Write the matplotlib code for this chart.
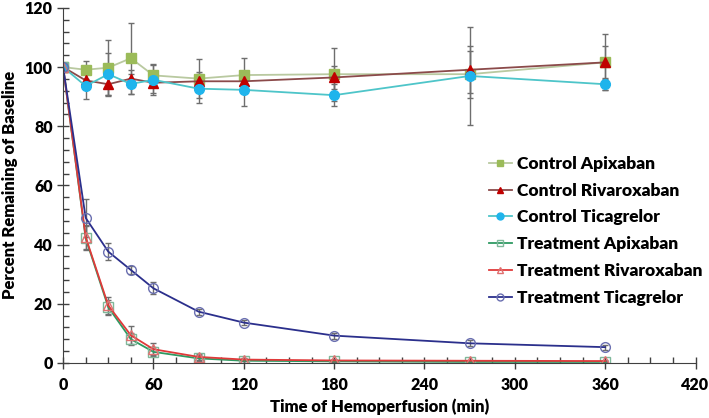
import numpy as np
import matplotlib.pyplot as plt
from matplotlib.ticker import MultipleLocator
from matplotlib.lines import Line2D

plt.rcParams['font.family'] = ['Lato', 'DejaVu Sans']
plt.rcParams['font.weight'] = 'bold'

# Zeitpunkte (min)
t = [0, 15, 30, 45, 60, 90, 120, 180, 270, 360]

# Kontrollen
ctrl_api = [100, 99.1, 99.8, 103.0, 97.2, 96.1, 97.3, 97.6, 97.6, 101.6]
ctrl_api_err = [0, 3.0, 9.5, 12.0, 4.0, 6.7, 5.7, 9.0, 8.0, 9.5]
ctrl_riv = [100, 95.5, 94.2, 96.1, 94.7, 95.2, 95.2, 96.5, 99.1, 101.6]
ctrl_riv_err = [0, 2.5, 3.5, 3.0, 3.5, 3.0, 3.0, 4.0, 8.0, 5.5]
ctrl_tic = [100, 93.6, 97.6, 94.3, 95.7, 92.7, 92.3, 90.5, 97.0, 94.2]
ctrl_tic_err = [0, 4.3, 7.1, 3.5, 5.0, 5.0, 5.5, 3.7, 16.5, 2.0]

# Behandlung
trt_api = [100, 42.1, 18.8, 8.0, 3.7, 1.5, 0.7, 0.5, 0.3, 0.3]
trt_api_err = [0, 4.0, 2.5, 2.0, 1.5, 1.0, 0.6, 0.5, 0.4, 0.4]
trt_riv = [100, 42.5, 19.4, 9.3, 4.6, 2.0, 1.1, 0.8, 0.7, 0.6]
trt_riv_err = [0, 4.0, 3.0, 3.0, 2.0, 1.0, 0.6, 0.5, 0.4, 0.4]
trt_tic = [100, 49.0, 37.6, 31.4, 25.2, 17.3, 13.6, 9.2, 6.6, 5.3]
trt_tic_err = [0, 6.5, 3.0, 1.5, 2.0, 1.0, 0.8, 1.0, 1.0, 0.8]

labels = ["Control Apixaban", "Control Rivaroxaban", "Control Ticagrelor",
          "Treatment Apixaban", "Treatment Rivaroxaban", "Treatment Ticagrelor"]

fig = plt.figure(figsize=(7.09, 4.18), dpi=100)
ax = fig.add_axes([0.089, 0.132, 0.892, 0.849])

ekw = dict(ecolor="#6E6E6E", elinewidth=1.0, capsize=2.5, capthick=1.0)

# Stil je Serie: Linie, Marker, Füllung, Rand
styles = [
    ("#B9C9A0", "s", "#9BBB59", "#9BBB59"),
    ("#8B4A4A", "^", "#C00000", "#C00000"),
    ("#4EC5C9", "o", "#1FB4EC", "#1FB4EC"),
    ("#2E9A62", "s", "none", "#7FB89A"),
    ("#E03A3A", "^", "none", "#E07070"),
    ("#2B2F8C", "o", "none", "#6A6FB0"),
]
series = [(ctrl_api, ctrl_api_err), (ctrl_riv, ctrl_riv_err), (ctrl_tic, ctrl_tic_err),
          (trt_api, trt_api_err), (trt_riv, trt_riv_err), (trt_tic, trt_tic_err)]

handles = []
for (y, e), (lc, mk, mf, me), lab in zip(series, styles, labels):
    ax.errorbar(t, y, yerr=e, color=lc, marker=mk, ms=7, mfc=mf, mec=me, lw=1.3, **ekw)
    handles.append(Line2D([], [], color=lc, marker=mk, ms=5, mfc=mf, mec=me, lw=1.3, label=lab))

ax.set_xlim(0, 420)
ax.set_ylim(0, 120)
ax.xaxis.set_major_locator(MultipleLocator(60))
ax.xaxis.set_minor_locator(MultipleLocator(15))
ax.yaxis.set_major_locator(MultipleLocator(20))
ax.yaxis.set_minor_locator(MultipleLocator(4))
ax.tick_params(which="major", direction="inout", length=8, width=1, labelsize=11.5, colors="#404040",
               labelcolor="black")
ax.tick_params(which="minor", direction="in", length=4, width=1, colors="#404040")
ax.tick_params(axis="x", pad=6)

for s in ["top", "right"]:
    ax.spines[s].set_visible(False)
for s in ["left", "bottom"]:
    ax.spines[s].set_color("#404040")

for lab in ax.get_xticklabels() + ax.get_yticklabels():
    lab.set_fontweight("heavy")

ax.set_xlabel("Time of Hemoperfusion (min)", fontsize=12, fontweight="heavy", labelpad=4)
ax.set_ylabel("Percent Remaining of Baseline", fontsize=12, fontweight="heavy")
ax.yaxis.set_label_coords(-0.072, 0.5)

leg = fig.legend(handles=handles, loc="upper left", bbox_to_anchor=(0.69, 0.627),
                 frameon=False, fontsize=12.5, handlelength=1.3, handletextpad=0.3,
                 labelspacing=0.62, borderpad=0, borderaxespad=0)
for txt in leg.get_texts():
    txt.set_fontweight("heavy")

fig.savefig("out.png", dpi=100)
